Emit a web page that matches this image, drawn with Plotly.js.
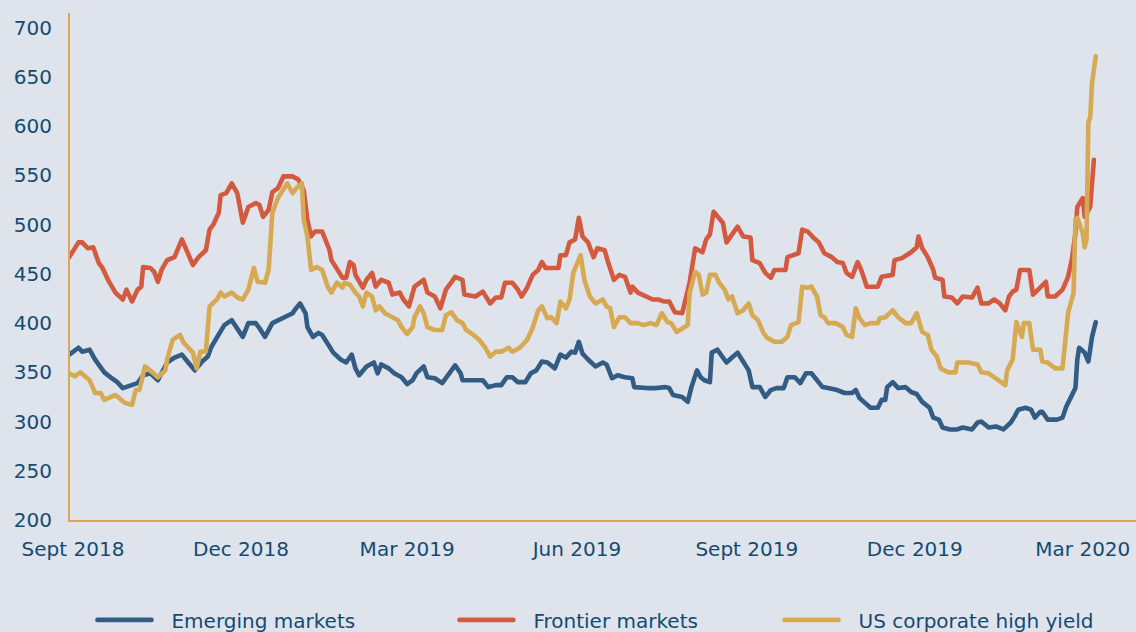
<!DOCTYPE html>
<html>
<head>
<meta charset="utf-8">
<script src="https://cdn.plot.ly/plotly-3.0.1.min.js"></script>
<style>
  html, body { margin: 0; padding: 0; background: #dfe3ec; }
  #chart { width: 1136px; height: 632px; }
  .scatterlayer .js-line { stroke-linejoin: round; stroke-linecap: round; }
  .legendlines path { stroke-linecap: round; }
</style>
</head>
<body>
<div id="chart"></div>
<script>
// x = days since 1 Sept 2018, y = spread (bp)
const seriesNames = ['Emerging markets', 'Frontier markets', 'US corporate high yield'];

const emergingMarkets = [
  [-2,368],[3,375],[5,371],[9,373],[12,363],[15,354],[17,350],[21,344],[24,340],[27,334],
  [31,337],[35,339],[38,347],[42,349],[46,342],[48,349],[51,360],[55,365],[59,368],[62,361],
  [66,352],[70,361],[73,366],[75,376],[79,388],[82,398],[86,403],[89,395],[92,386],[95,400],
  [99,400],[101,395],[104,386],[108,400],[111,403],[115,406],[119,410],[120,413],[123,420],[126,410],
  [127,396],[130,386],[133,390],[135,388],[138,378],[141,370],[145,363],[148,360],[151,368],[153,354],
  [155,347],[159,356],[163,360],[165,349],[167,358],[171,354],[174,349],[178,345],[181,338],[184,342],
  [186,349],[190,356],[192,345],[196,344],[200,339],[204,349],[207,357],[210,349],[211,342],[216,342],
  [222,342],[225,335],[229,337],[232,337],[235,345],[238,345],[241,340],[245,340],[248,349],[251,352],
  [254,361],[257,360],[261,354],[264,368],[267,365],[270,371],[272,370],[274,381],[276,369],[279,363],
  [283,356],[287,360],[289,358],[292,344],[295,347],[299,345],[303,344],[304,335],[308,334],[311,334],
  [316,334],[321,335],[323,334],[325,327],[330,325],[333,320],[335,335],[338,352],[340,345],[342,342],
  [345,340],[346,370],[349,373],[352,366],[354,360],[357,365],[360,370],[363,361],[366,352],[368,335],
  [372,335],[375,325],[378,332],[381,334],[385,334],[387,345],[391,345],[394,339],[397,349],[400,349],
  [403,342],[406,335],[409,334],[414,332],[418,329],[422,329],[424,332],[426,324],[429,319],[432,314],
  [436,314],[438,322],[440,322],[441,335],[444,340],[447,334],[451,335],[454,330],[457,328],[460,320],
  [464,314],[466,304],[469,302],[471,294],[475,292],[479,292],[482,294],[487,292],[490,299],[492,300],
  [496,294],[500,295],[504,292],[508,299],[510,305],[512,312],[516,314],[519,312],[521,304],[524,310],
  [525,310],[528,302],[533,302],[536,304],[538,315],[541,325],[543,334],[544,363],[545,375],[548,370],
  [550,361],[552,386],[554,401]
];

const frontierMarkets = [
  [-2,467],[3,482],[5,482],[8,476],[11,477],[14,461],[16,456],[19,444],[23,431],[27,424],
  [29,434],[32,422],[35,434],[37,437],[38,457],[42,456],[44,452],[46,442],[48,454],[51,464],
  [55,467],[59,485],[62,472],[65,459],[68,467],[72,474],[74,495],[76,500],[79,512],[80,530],
  [83,532],[86,542],[89,532],[90,520],[92,502],[95,518],[99,522],[101,520],[103,508],[106,515],
  [108,533],[111,537],[114,549],[119,549],[122,546],[125,535],[127,505],[129,488],[131,493],[135,493],
  [137,482],[139,474],[140,464],[143,454],[146,446],[148,446],[150,462],[152,459],[153,449],[157,436],
  [159,444],[162,451],[164,437],[167,444],[171,441],[173,429],[177,431],[179,424],[182,417],[185,437],
  [190,444],[192,431],[196,427],[199,415],[202,434],[204,439],[207,447],[211,444],[212,429],[218,427],
  [222,432],[226,420],[229,426],[232,426],[234,441],[238,441],[241,434],[243,427],[246,436],[249,449],
  [252,454],[254,462],[256,456],[259,456],[263,456],[264,469],[267,469],[269,482],[272,485],[274,507],
  [276,488],[279,482],[282,467],[284,476],[288,474],[290,461],[293,444],[296,449],[299,447],[302,431],
  [303,437],[306,431],[310,427],[314,424],[317,424],[320,422],[323,422],[326,411],[330,410],[334,441],
  [337,476],[341,472],[343,485],[345,490],[347,513],[349,508],[352,502],[354,482],[357,490],[360,498],
  [363,488],[367,487],[368,464],[372,461],[375,451],[378,446],[380,454],[386,454],[387,467],[393,471],
  [395,495],[398,493],[401,487],[404,482],[407,471],[411,467],[414,462],[417,461],[419,451],[422,447],
  [425,462],[427,454],[430,437],[436,437],[438,447],[444,449],[445,464],[449,466],[454,472],[457,477],
  [458,488],[460,476],[463,467],[466,454],[467,446],[471,444],[472,427],[476,426],[479,420],[482,427],
  [487,426],[490,436],[492,420],[496,420],[499,424],[502,420],[505,413],[507,427],[509,432],[511,434],
  [513,454],[518,454],[520,429],[524,437],[527,442],[528,427],[532,427],[536,434],[539,447],[541,464],
  [543,491],[544,518],[547,527],[548,508],[551,518],[553,566]
];

const usHighYield = [
  [-2,349],[1,346],[4,350],[7,345],[9,342],[12,329],[15,329],[17,322],[20,325],[23,327],
  [25,324],[28,319],[32,317],[34,332],[36,332],[39,356],[43,350],[46,345],[50,352],[51,363],
  [54,383],[58,388],[60,380],[62,376],[65,370],[67,354],[69,371],[72,371],[73,400],[74,417],
  [78,424],[80,431],[82,427],[86,431],[89,426],[92,424],[95,434],[98,456],[100,442],[104,441],
  [106,454],[108,512],[111,527],[114,537],[116,542],[119,532],[121,537],[124,542],[125,505],[127,488],
  [129,454],[132,457],[135,454],[138,437],[140,431],[143,441],[146,436],[147,441],[150,439],[153,431],
  [155,427],[157,417],[159,431],[162,427],[164,413],[166,417],[169,410],[173,406],[176,403],[178,396],
  [181,389],[184,396],[185,406],[188,417],[190,410],[192,396],[196,393],[200,393],[202,408],[205,411],
  [208,403],[211,400],[213,393],[217,388],[220,383],[223,376],[226,366],[229,371],[232,371],[236,375],
  [238,371],[242,375],[246,383],[249,395],[252,413],[254,417],[257,405],[259,406],[262,400],[264,422],
  [267,415],[269,424],[271,451],[275,469],[277,444],[280,427],[283,420],[287,424],[289,417],[291,415],
  [293,396],[296,406],[299,406],[302,400],[306,400],[309,398],[313,400],[316,398],[319,410],[322,401],
  [324,400],[327,391],[330,395],[333,398],[334,431],[337,452],[339,449],[341,429],[343,431],[345,449],
  [348,449],[350,441],[353,434],[355,424],[357,427],[360,410],[363,413],[366,420],[368,408],[371,403],
  [374,390],[376,385],[380,381],[384,381],[387,386],[389,398],[393,401],[395,437],[398,436],[400,437],
  [403,427],[405,408],[407,406],[409,400],[413,400],[417,396],[419,388],[422,386],[424,415],[426,405],
  [429,398],[432,400],[436,400],[437,405],[440,406],[444,413],[447,406],[451,400],[454,400],[457,410],
  [460,391],[463,388],[465,373],[468,366],[470,354],[474,350],[478,350],[479,360],[485,360],[490,358],
  [492,350],[496,349],[499,345],[503,340],[505,337],[506,352],[509,363],[510,381],[511,401],[514,386],
  [515,400],[518,400],[520,373],[524,373],[525,361],[528,360],[532,354],[536,354],[537,370],[539,410],
  [542,431],[543,505],[544,507],[547,491],[548,477],[549,485],[550,604],[551,609],[552,644],[554,671]
];

const seriesColors = ['#335c85', '#d35a3f', '#d6aa52'];
const xTickVals = [0, 91, 181, 273, 365, 456, 547];
const xTickText = ['Sept 2018', 'Dec 2018', 'Mar 2019', 'Jun 2019', 'Sept 2019', 'Dec 2019', 'Mar 2020'];
const yTickVals = [200, 250, 300, 350, 400, 450, 500, 550, 600, 650, 700];

const allSeries = [emergingMarkets, frontierMarkets, usHighYield];
const legendIds = ['legend', 'legend2', 'legend3'];

const traces = allSeries.map((s, i) => ({
  type: 'scatter',
  mode: 'lines',
  name: seriesNames[i],
  x: s.map(p => p[0]),
  y: s.map(p => p[1]),
  line: { color: seriesColors[i], width: 4.6 },
  legend: legendIds[i],
  hoverinfo: 'x+y'
}));

const textColor = '#134b73';
const fontFam = 'DejaVu Sans, sans-serif';
const bg = '#dfe3ec';

function legendAt(x) {
  return {
    orientation: 'h', x: x, xanchor: 'left', y: -0.197, yanchor: 'middle',
    bgcolor: 'rgba(0,0,0,0)', borderwidth: 0, itemwidth: 71,
    font: { family: fontFam, size: 20, color: textColor }
  };
}

const layout = {
  width: 1136, height: 632,
  margin: { l: 70, r: 0, t: 13, b: 112, autoexpand: false },
  paper_bgcolor: bg, plot_bgcolor: bg,
  font: { family: fontFam, size: 20, color: textColor },
  showlegend: true,
  legend: legendAt(0.0192),
  legend2: legendAt(0.3588),
  legend3: legendAt(0.6637),
  xaxis: {
    type: 'linear', range: [-1.6, 575.8],
    tickmode: 'array', tickvals: xTickVals, ticktext: xTickText,
    showgrid: false, zeroline: false,
    showline: true, linecolor: '#d6aa52', linewidth: 2,
    ticks: '', ticklabelstandoff: 10,
    tickfont: { family: fontFam, size: 20, color: textColor }
  },
  yaxis: {
    range: [200, 715],
    tickmode: 'array', tickvals: yTickVals,
    showgrid: false, zeroline: false,
    showline: true, linecolor: '#d6aa52', linewidth: 2,
    ticks: '', ticklabelstandoff: 12,
    tickfont: { family: fontFam, size: 20, color: textColor }
  }
};

Plotly.newPlot('chart', traces, layout, { displayModeBar: false, staticPlot: true }).then(gd => {
  gd.querySelectorAll('.legendlines path').forEach(p => p.setAttribute('d', 'M7,0h54'));
});
</script>
</body>
</html>
